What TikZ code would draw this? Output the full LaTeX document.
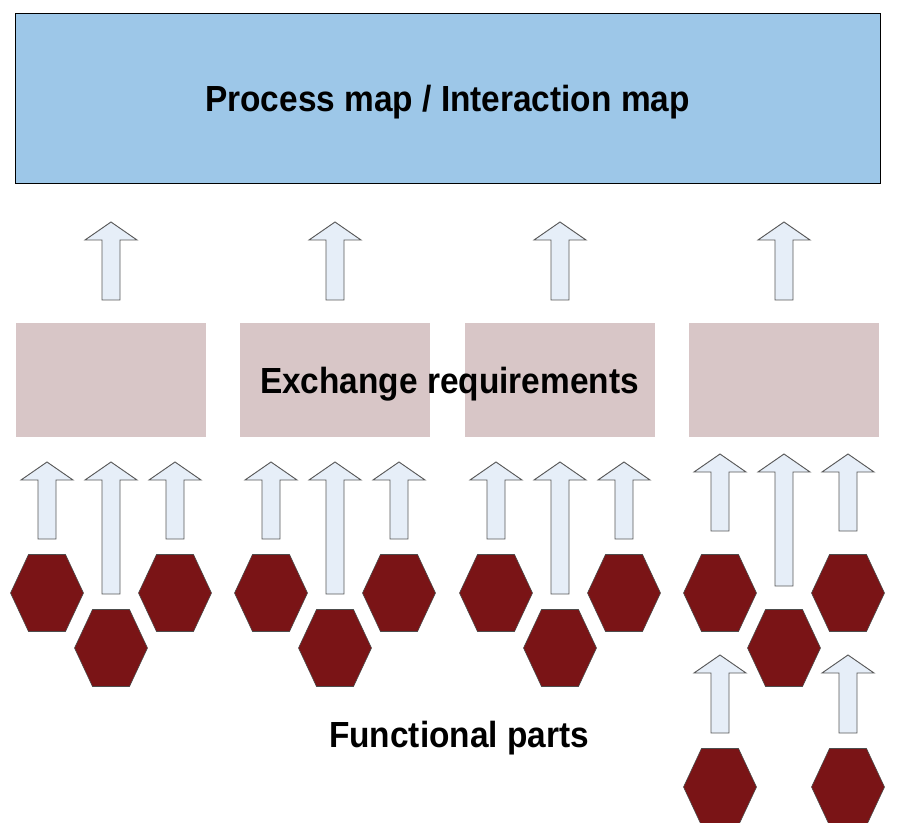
\documentclass[tikz,border=0pt]{standalone}
\usepackage{fontspec}
\setmainfont{Liberation Sans}
\newfontfamily\labelfont{Liberation Sans Bold}[FakeStretch=0.92]
\usepackage{tikz}
\usetikzlibrary{positioning}

\definecolor{mapblue}{HTML}{9DC7E8}
\definecolor{reqpink}{HTML}{D8C6C7}
\definecolor{arrfill}{HTML}{E6EEF8}
\definecolor{hexred}{HTML}{7A1416}

\begin{document}
\begin{tikzpicture}[x=0.03cm,y=-0.03cm,
	mapbox/.style={draw=black,fill=mapblue,line width=0.8pt,minimum width=25.95cm,minimum height=5.1cm,text depth=0pt},
	reqbox/.style={fill=reqpink,minimum width=5.7cm,minimum height=3.42cm},
	bigtext/.style={font=\labelfont\fontsize{31}{36}\selectfont,inner sep=0pt},
	blockarr/.style={draw=black!65,fill=arrfill,line width=0.8pt,line join=miter},
	hexa/.style={draw=black!70,fill=hexred,line width=0.5pt}]
	\useasboundingbox (0,0) rectangle (899,823);
	% top map
	\node[mapbox,bigtext,inner sep=0pt] (map) at (447.5,98) {Process map / Interaction map};
	% exchange requirement boxes
	\foreach \i in {0,1,2,3}
		\node[reqbox] (req\i) at ({111+224.3*\i},380) {};
	\node[bigtext,anchor=base] (reqtext) at (449.5,393) {Exchange requirements};
	% arrows: centre x / tip y / bottom y
	\foreach \cx/\tip/\bot in {111/222/300,335/222/300,560/222/300,784/222/300,
		47/462/539,111/462/594,175/462/539,
		271/462/539,335/462/594,399/462/539,
		496/462/539,560/462/594,624/462/539,
		720/454/531,784/454/586,848/454/531,
		720/655/733,848/655/733}
		\draw[blockarr] (\cx-9,\bot) -- (\cx-9,\tip+18) -- (\cx-26,\tip+18) -- (\cx,\tip)
			-- (\cx+26,\tip+18) -- (\cx+9,\tip+18) -- (\cx+9,\bot) -- cycle;
	% functional parts
	\foreach \cx/\cy in {47/593,111/648,175/593,271/593,335/648,399/593,
		496/593,560/648,624/593,720/593,784/648,848/593,720/787,848/787}
		\draw[hexa] (\cx-36.5,\cy) -- (\cx-18.5,\cy-38.5) -- (\cx+18.5,\cy-38.5)
			-- (\cx+36.5,\cy) -- (\cx+18.5,\cy+38.5) -- (\cx-18.5,\cy+38.5) -- cycle;
	\node[bigtext,anchor=base] (parts) at (459,747) {Functional parts};
\end{tikzpicture}
\end{document}
